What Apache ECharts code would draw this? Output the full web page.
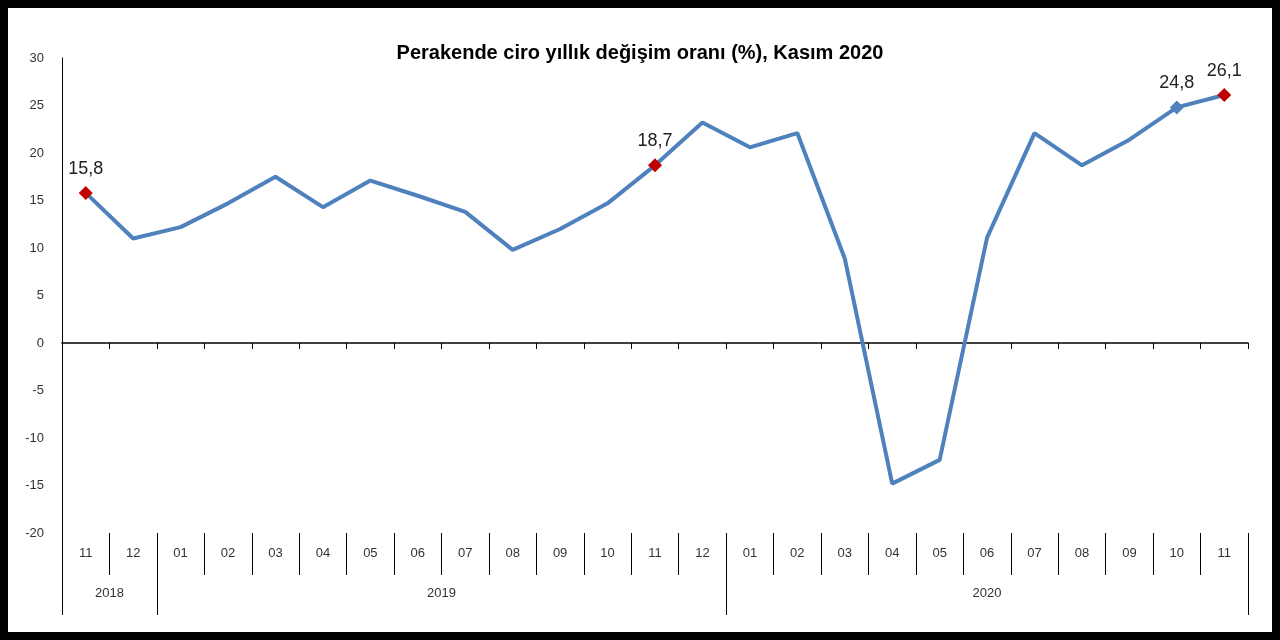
<!DOCTYPE html><html><head><meta charset="utf-8">
<script src="https://cdn.jsdelivr.net/npm/echarts@6/dist/echarts.min.js"></script>
<style>html,body{margin:0;padding:0;background:#fff}#c{width:1264px;height:624px;border:8px solid #000}</style>
</head><body><div id="c"></div><script>
const months=["11","12","01","02","03","04","05","06","07","08","09","10","11","12","01","02","03","04","05","06","07","08","09","10","11"];
const values=[15.8,11.0,12.2,14.7,17.5,14.3,17.1,15.5,13.8,9.8,12.0,14.7,18.7,23.2,20.6,22.1,8.9,-14.8,-12.3,11.1,22.1,18.7,21.4,24.8,26.1];
const years=["2018","2019","2020"];
const yearCenters=[1,8,19.5];
const yearBounds=[0,2,14,25];
const labelIdx={0:"15,8",12:"18,7",23:"24,8",24:"26,1"};
const ch=echarts.init(document.getElementById('c'));
const data=values.map((v,i)=>{
  const o={value:v};
  if(labelIdx[i]!==undefined){
    o.symbol='diamond';o.symbolSize=14;
    o.itemStyle={color:i===23?'#4f81bd':'#c00000'};
    o.label={show:true,position:'top',formatter:labelIdx[i],fontSize:18,color:'#222',distance:8};
  }
  return o;
});
ch.setOption({
  title:{text:'Perakende ciro yıllık değişim oranı (%), Kasım 2020',left:'center',top:30,textStyle:{fontFamily:'Liberation Sans',fontWeight:'bold',fontSize:20,color:'#000'}},
  grid:{left:54,right:24,top:50,bottom:99},
  xAxis:[
    {type:'category',data:months,boundaryGap:true,axisLine:{onZero:true,lineStyle:{color:'#000',width:1.5}},axisTick:{show:true,length:6,lineStyle:{color:'#000'}},axisLabel:{show:false}},
    {type:'value',min:0,max:25,position:'bottom',offset:0,axisLine:{show:false},splitLine:{show:false},
     axisTick:{show:true,length:42,customValues:Array.from({length:26},(_, i)=>i),lineStyle:{color:'#000'}},
     axisLabel:{customValues:months.map((m,i)=>i+0.5),formatter:v=>months[Math.floor(v)],margin:14,fontSize:13,color:'#333',fontFamily:'Liberation Sans'}},
    {type:'value',min:0,max:25,position:'bottom',offset:42,axisLine:{show:false},splitLine:{show:false},
     axisTick:{show:true,length:40,customValues:yearBounds,lineStyle:{color:'#000'}},
     axisLabel:{customValues:yearCenters,formatter:v=>years[yearCenters.indexOf(v)],margin:12,fontSize:13,color:'#333',fontFamily:'Liberation Sans'}}
  ],
  yAxis:{type:'value',min:-20,max:30,interval:5,axisLine:{show:true,lineStyle:{color:'#000'}},axisTick:{show:false},splitLine:{show:false},
    axisLabel:{fontSize:13,color:'#333',fontFamily:'Liberation Sans',margin:18}},
  series:[{type:'line',data:data,xAxisIndex:0,symbol:'none',showSymbol:true,lineStyle:{color:'#4f81bd',width:4},itemStyle:{color:'#4f81bd'}}]
});
</script></body></html>
